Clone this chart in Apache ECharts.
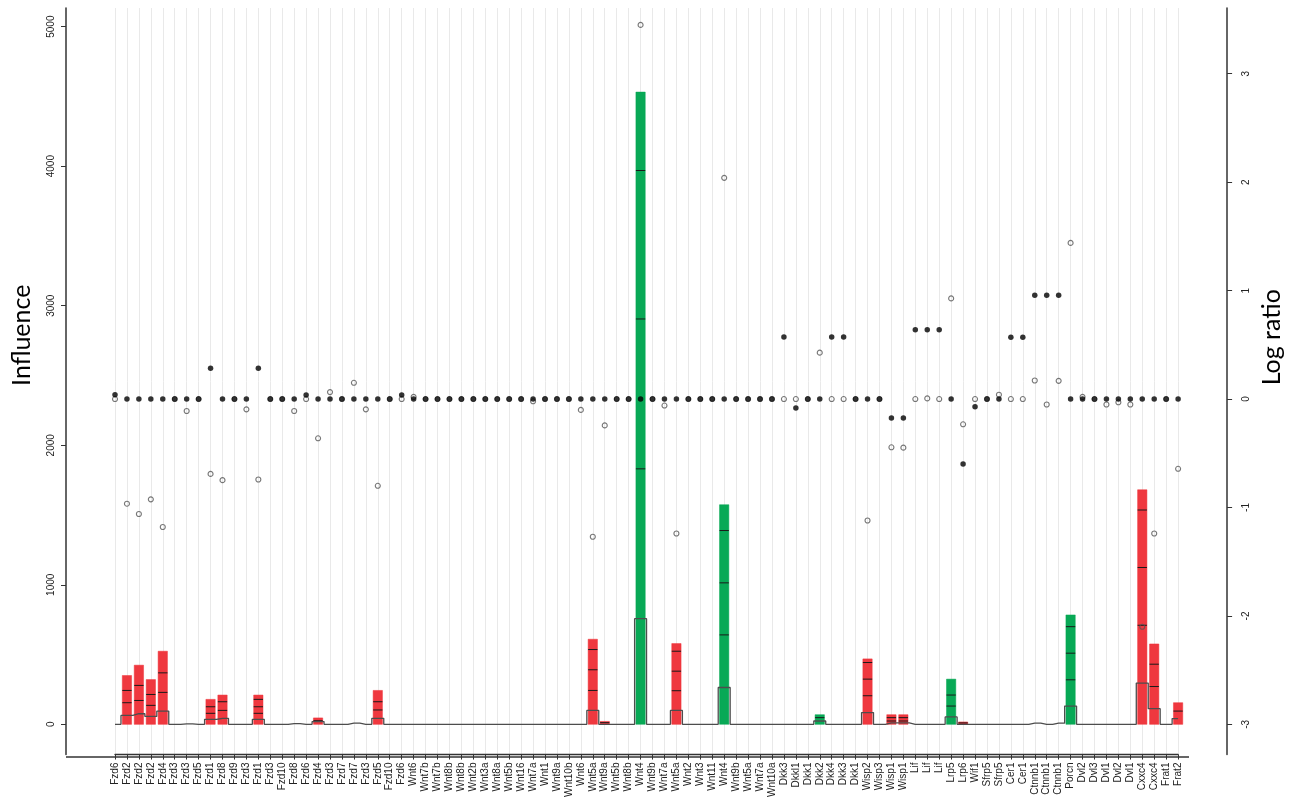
<!DOCTYPE html>
<html>
<head>
<meta charset="utf-8">
<script src="https://cdn.jsdelivr.net/npm/echarts@6/dist/echarts.min.js"></script>
<style>
html,body{margin:0;padding:0;background:#fff;}
#chart{width:1292px;height:800px;}
</style>
</head>
<body>
<div id="chart"></div>
<script>
const categories = [
 'Fzd6','Fzd2','Fzd2','Fzd2','Fzd4','Fzd3','Fzd3','Fzd5','Fzd1','Fzd8',
 'Fzd9','Fzd3','Fzd1','Fzd3','Fzd10','Fzd8','Fzd6','Fzd4','Fzd3','Fzd7',
 'Fzd7','Fzd3','Fzd5','Fzd10','Fzd6','Wnt6','Wnt7b','Wnt7b','Wnt8b','Wnt8b',
 'Wnt2b','Wnt3a','Wnt8a','Wnt5b','Wnt16','Wnt7a','Wnt1','Wnt9a','Wnt10b','Wnt6',
 'Wnt5a','Wnt9a','Wnt5b','Wnt8b','Wnt4','Wnt9b','Wnt7a','Wnt5a','Wnt2','Wnt3',
 'Wnt11','Wnt4','Wnt9b','Wnt5a','Wnt7a','Wnt10a','Dkk3','Dkkl1','Dkk1','Dkk2',
 'Dkk4','Dkk3','Dkk1','Wisp2','Wisp3','Wisp1','Wisp1','Lif','Lif','Lif',
 'Lrp5','Lrp6','Wif1','Sfrp5','Sfrp5','Cer1','Cer1','Ctnnb1','Ctnnb1','Ctnnb1',
 'Porcn','Dvl2','Dvl3','Dvl1','Dvl2','Dvl1','Cxxc4','Cxxc4','Frat1','Frat2'
];

// Influence bar totals
const influence = [
 0,350,424,321,524,0,0,0,179,210,
 0,0,210,0,0,0,0,46,0,0,
 0,0,243,0,0,0,0,0,0,0,
 0,0,0,0,0,0,0,0,0,0,
 610,21,0,0,4531,0,0,579,0,0,
 0,1574,0,0,0,0,0,0,0,69,
 0,0,0,469,0,69,69,0,0,0,
 324,17,0,0,0,0,0,0,0,0,
 784,0,0,0,0,0,1681,576,0,155
];

// bar class: 'up' (green) / 'down' (red)
const barClass = [
 '','down','down','down','down','','','','down','down',
 '','','down','','','','','down','','',
 '','','down','','','','','','','',
 '','','','','','','','','','',
 'down','down','','','up','','','down','','',
 '','up','','','','','','','','up',
 '','','','down','','down','down','','','',
 'up','down','','','','','','','','',
 'up','','','','','','down','down','','down'
];

// Inner segment marks inside bars (Influence units)
const innerMarks = [
 [],[243,155],[279,171],[214,136],[369,229],[],[],[],[126,79],[162,100],
 [],[],[179,126,79],[],[],[],[],[26],[],[],
 [],[],[162,103],[],[],[],[],[],[],[],
 [],[],[],[],[],[],[],[],[],[],
 [536,391,243],[12],[],[],[3969,2905,1831],[],[],[524,381,241],[],[],
 [],[1389,1014,641],[],[],[],[],[],[],[],[48],
 [],[],[],[443,324,205],[],[48,24],[48,24],[],[],[],
 [210,131],[10],[],[],[],[],[],[],[],[],
 [700,510,319],[],[],[],[],[],[1536,1124,710],[431,271],[],[95]
];

// Baseline (outlined box) level per category (Influence units)
const boxLevel = [
 0,64,76,57,95,0,3,0,36,43,
 0,0,36,0,0,5,0,20,0,0,
 8,0,43,0,0,0,0,0,0,0,
 0,0,0,0,0,0,0,0,0,0,
 100,0,0,0,757,0,0,100,0,0,
 0,264,0,0,0,0,0,0,0,24,
 0,0,0,84,0,10,10,0,0,0,
 53,0,0,0,0,0,0,8,0,8,
 131,0,0,0,0,0,296,112,0,41
];

// Log ratio, filled points
const logRatioFilled = [
 0.04,0,0,0,0,0,0,0,0.285,0,
 0,0,0.285,0,0,0,0.037,0,0,0,
 0,0,0,0,0.037,0,0,0,0,0,
 0,0,0,0,0,0,0,0,0,0,
 0,0,0,0,0,0,0,0,0,0,
 0,0,0,0,0,0,0.573,-0.083,0,0,
 0.573,0.573,0,0,0,-0.175,-0.175,0.64,0.64,0.64,
 0,-0.60,-0.071,0,0,0.57,0.57,0.958,0.958,0.958,
 0,0,0,0,0,0,0,0,0,0
];

// Log ratio, open points
const logRatioOpen = [
 0,-0.965,-1.06,-0.925,-1.18,0,-0.11,0,-0.69,-0.748,
 0,-0.095,-0.742,0,0,-0.11,0,-0.362,0.064,0,
 0.15,-0.095,-0.80,0,0,0.02,0,0,0,0,
 0,0,0,0,0,-0.02,0,0,0,-0.10,
 -1.27,-0.243,0,0,3.45,0,-0.06,-1.24,0,0,
 0,2.04,0,0,0,0,0,0,0,0.428,
 0,0,0,-1.12,0,-0.445,-0.448,0,0.006,0,
 0.928,-0.233,0,0,0.04,0,0,0.171,-0.05,0.168,
 1.44,0.02,0,-0.05,-0.03,-0.05,-2.10,-1.24,0,-0.643
];

const influenceTicks = [0,1000,2000,3000,4000,5000];
const logTicks = [-3,-2,-1,0,1,2,3];

const COLORS = { up: '#00A651', down: '#EE3239' };
const W = 1292, H = 800;
const GRID = { left: 115, right: 109, top: 8, bottom: 43 };
const AXIS_OFFSET = 49;

const chart = echarts.init(document.getElementById('chart'));

const option = {
  animation: false,
  backgroundColor: '#fff',
  grid: GRID,
  xAxis: {
    type: 'category',
    data: categories,
    boundaryGap: false,
    axisLine: { show: true, onZero: false, lineStyle: { color: '#333', width: 1.3 } },
    axisTick: { show: true, interval: 0, length: 5, lineStyle: { color: '#333', width: 1 } },
    axisLabel: { interval: 0, rotate: 90, fontSize: 10, color: '#222', fontFamily: 'Liberation Sans', margin: 8 },
    splitLine: { show: true, interval: 0, lineStyle: { color: '#e9e9e9', width: 1 } }
  },
  yAxis: [
    {
      type: 'value', position: 'left', offset: AXIS_OFFSET,
      min: -216.4, max: 5133.6,
      axisLine: { show: true, lineStyle: { color: '#333', width: 1.5 } },
      axisTick: { show: true, customValues: influenceTicks, length: 5, lineStyle: { color: '#333' } },
      axisLabel: { customValues: influenceTicks, rotate: 90, fontSize: 10, color: '#222', fontFamily: 'Liberation Sans', margin: 10, formatter: v => String(v) },
      splitLine: { show: false },
      name: 'Influence', nameLocation: 'middle', nameGap: 32, nameRotate: 90,
      nameTextStyle: { fontSize: 25, fontFamily: 'Lato', color: '#000', padding: [0, 0, 0, 92] }
    },
    {
      type: 'value', position: 'right', offset: AXIS_OFFSET,
      min: -3.278, max: 3.606,
      axisLine: { show: true, lineStyle: { color: '#333', width: 1.5 } },
      axisTick: { show: true, customValues: logTicks, length: 5, lineStyle: { color: '#333' } },
      axisLabel: { customValues: logTicks, rotate: 90, fontSize: 10, color: '#222', fontFamily: 'Liberation Sans', margin: 14, formatter: v => String(v) },
      splitLine: { show: false },
      name: 'Log ratio', nameLocation: 'middle', nameGap: 31, nameRotate: 90,
      nameTextStyle: { fontSize: 25, fontFamily: 'Lato', color: '#000', padding: [0, 0, 0, 88] }
    }
  ],
  graphic: [
    {
      type: 'line', z: 10, silent: true,
      shape: { x1: GRID.left - AXIS_OFFSET, y1: H - GRID.bottom, x2: W - GRID.right + 6, y2: H - GRID.bottom },
      style: { stroke: '#333', lineWidth: 1.3 }
    }
  ],
  series: [
    {
      type: 'custom',
      name: 'Influence',
      yAxisIndex: 0,
      z: 2,
      data: influence.map((v, i) => [i, v]),
      renderItem: function (params, api) {
        const i = api.value(0), v = api.value(1);
        if (!v) return null;
        const top = api.coord([i, v]);
        const base = api.coord([i, 0]);
        const band = (api.size([1, 0])[0]) || 12;
        const w = band * 0.78;
        const fill = COLORS[barClass[i]] || COLORS.down;
        const children = [{
          type: 'rect',
          shape: { x: top[0] - w / 2, y: top[1], width: w, height: base[1] - top[1] },
          style: { fill: fill, stroke: fill, lineWidth: 0.5, opacity: 0.97 }
        }];
        innerMarks[i].forEach(function (m) {
          const p = api.coord([i, m]);
          children.push({
            type: 'line',
            shape: { x1: top[0] - w / 2, y1: p[1], x2: top[0] + w / 2, y2: p[1] },
            style: { stroke: '#1a1a1a', lineWidth: 1 }
          });
        });
        return { type: 'group', children: children };
      }
    },
    {
      type: 'line',
      name: 'Baseline',
      yAxisIndex: 0,
      z: 3,
      step: 'middle',
      symbol: 'none',
      data: boxLevel,
      lineStyle: { color: '#4d4d4d', width: 1.3 }
    },
    {
      type: 'scatter',
      name: 'Open',
      yAxisIndex: 1,
      z: 4,
      symbol: 'circle',
      symbolSize: 5,
      data: logRatioOpen.map((v, i) => [i, v]),
      itemStyle: { color: 'rgba(255,255,255,0)', borderColor: '#555', borderWidth: 1.1 }
    },
    {
      type: 'scatter',
      name: 'Filled',
      yAxisIndex: 1,
      z: 5,
      symbol: 'circle',
      symbolSize: 5.5,
      data: logRatioFilled.map((v, i) => [i, v]),
      itemStyle: { color: '#000' }
    }
  ]
};

chart.setOption(option);
</script>
</body>
</html>
